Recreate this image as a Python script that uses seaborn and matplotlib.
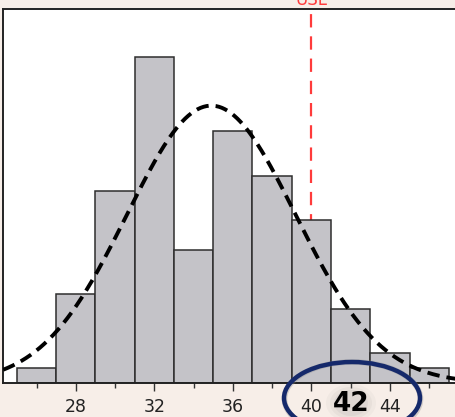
import numpy as np
import pandas as pd
import seaborn as sns
import matplotlib
matplotlib.use("Agg")
import matplotlib.pyplot as plt
from matplotlib.patches import Ellipse

# Histogram data: bin edges (width 2) and counts per bin
bin_edges = [25, 27, 29, 31, 33, 35, 37, 39, 41, 43, 45, 47]
counts = [1, 6, 13, 22, 9, 17, 14, 11, 5, 2, 1]

# Fitted normal distribution parameters
fit_mean = 34.9
fit_sd = 4.3

# Specification limit
usl = 40
usl_label = "USL"

major_ticks = [28, 32, 36, 40, 44]
minor_ticks = [26, 30, 34, 38, 42, 46]
highlight_label = "42"

sns.set_theme(style="white")
plt.rcParams["font.family"] = ["DejaVu Sans"]

W, H, DPI = 456, 417, 100
fig = plt.figure(figsize=(W / DPI, H / DPI), dpi=DPI, facecolor="#F7EEE8")
ax = fig.add_axes([3 / W, (H - 383) / H, 1.0, (383 - 9) / H])
ax.set_facecolor("white")

centers = [(a + b) / 2 for a, b in zip(bin_edges[:-1], bin_edges[1:])]
df = pd.DataFrame({"value": centers, "count": counts})

# USL reference line sits behind the bars
ax.axvline(usl, color="#FF3B3B", lw=1.6, dashes=(6, 4), zorder=0.5)

sns.histplot(data=df, x="value", weights="count", bins=bin_edges,
             color="#C4C3C8", edgecolor="#2E2E2E", linewidth=1.1,
             alpha=1.0, ax=ax, zorder=2)

# Fitted normal curve scaled to counts
xs = np.linspace(24.3, 47.6, 300)
binw = bin_edges[1] - bin_edges[0]
pdf = sum(counts) * binw / (fit_sd * np.sqrt(2 * np.pi)) * np.exp(-0.5 * ((xs - fit_mean) / fit_sd) ** 2)
curve = pd.DataFrame({"x": xs, "y": pdf})
sns.lineplot(data=curve, x="x", y="y", ax=ax, color="black", lw=2.8,
             dashes=False, zorder=3)
ax.lines[-1].set_dashes((3.2, 1.8))

ax.set_xlim(24.29, 24.29 + (W - 3) / 19.5)
ax.set_ylim(0, 374 / 14.8)
ax.set_xlabel("")
ax.set_ylabel("")
ax.set_yticks([])
ax.set_xticks(major_ticks)
ax.set_xticks(minor_ticks, minor=True)
ax.set_xticklabels([str(t) for t in major_ticks])
ax.tick_params(axis="x", which="major", length=6, width=1, color="#333333",
               direction="out", pad=5, labelsize=12.5, labelcolor="#222222",
               bottom=True)
ax.tick_params(axis="x", which="minor", length=3.5, width=1, color="#333333",
               direction="out", bottom=True)
for side in ("left", "bottom", "top"):
    ax.spines[side].set_color("#222222")
    ax.spines[side].set_linewidth(1.4)
ax.spines["right"].set_visible(False)

# USL label above the frame
ax.text(usl, 1.0, usl_label, transform=ax.get_xaxis_transform(),
        color="#FF3B3B", fontsize=12, ha="center", va="bottom",
        clip_on=False)

# Highlighted value with a circled annotation
trans = fig.transFigure
for i, a in enumerate([0.10, 0.08, 0.06]):
    fig.patches.append(Ellipse((351 / W, 1 - 403 / H), (34 + i * 8) / W, (26 + i * 6) / H,
                               transform=trans, facecolor="#888888", alpha=a,
                               edgecolor="none", zorder=4))
fig.text(351 / W, 1 - 404 / H, highlight_label, fontsize=19, fontweight="bold",
         color="black", ha="center", va="center", zorder=6)
fig.patches.append(Ellipse((352.5 / W, 1 - 399 / H), 136 / W, 74 / H,
                           transform=trans, facecolor="none",
                           edgecolor="#8A8A8A", lw=4, alpha=0.35, zorder=5))
fig.patches.append(Ellipse((352 / W, 1 - 398 / H), 136 / W, 72 / H,
                           transform=trans, facecolor="none",
                           edgecolor="#15296B", lw=3.2, zorder=7))

fig.savefig("out.png", dpi=DPI, facecolor=fig.get_facecolor())
